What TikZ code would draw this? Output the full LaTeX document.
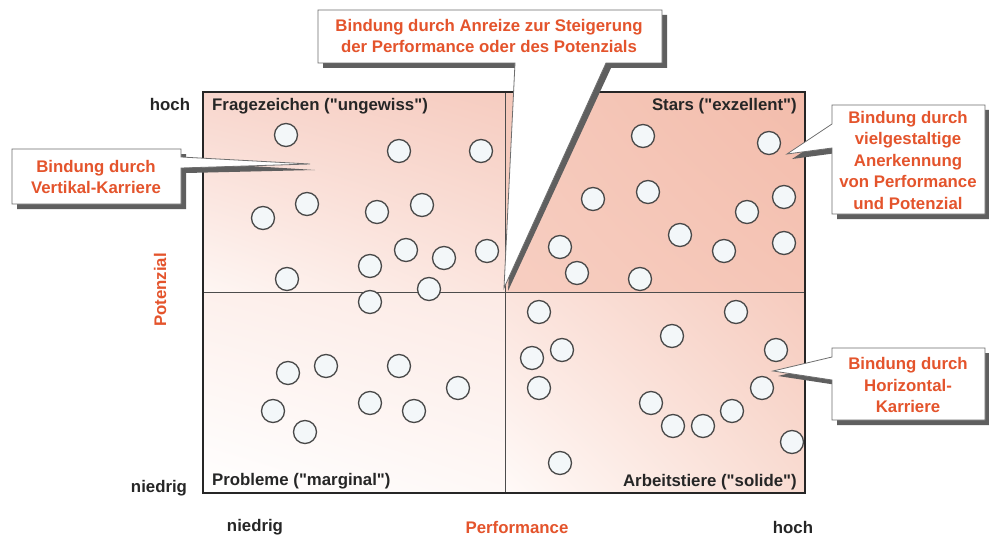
\documentclass[tikz,border=0pt]{standalone}
\usepackage{fontspec}
\setmainfont{Liberation Sans}
\usetikzlibrary{shadings}
\definecolor{accent}{RGB}{228,84,44}
\definecolor{shadowgray}{RGB}{95,95,95}
\definecolor{boxedge}{RGB}{110,110,110}
\definecolor{dotfill}{RGB}{243,247,249}
\definecolor{dotedge}{RGB}{72,72,72}
% quadrant colours
\definecolor{aUL}{RGB}{248,214,205}\definecolor{aUR}{RGB}{246,204,192}
\definecolor{aLL}{RGB}{254,246,243}\definecolor{aLR}{RGB}{251,228,221}
\definecolor{bUL}{RGB}{245,201,187}\definecolor{bUR}{RGB}{243,188,171}
\definecolor{bLL}{RGB}{247,206,193}\definecolor{bLR}{RGB}{245,197,182}
\definecolor{cUL}{RGB}{253,240,236}\definecolor{cUR}{RGB}{252,234,229}
\definecolor{cLL}{RGB}{255,255,255}\definecolor{cLR}{RGB}{254,248,246}
\definecolor{dUL}{RGB}{251,228,221}\definecolor{dUR}{RGB}{246,203,190}
\definecolor{dLL}{RGB}{255,250,248}\definecolor{dLR}{RGB}{249,220,210}
\tikzset{
  dot/.style={circle,draw=dotedge,fill=dotfill,line width=1.3pt,minimum size=23pt,inner sep=0pt},
  lbl/.style={font=\fontsize{16.8}{19}\selectfont\bfseries,text=black!85,inner sep=0pt},
  redlbl/.style={lbl,text=accent},
  calltext/.style={font=\fontsize{16.8}{21.5}\selectfont\bfseries,text=accent,align=center,inner sep=0pt},
  callbox/.style={fill=white,draw=boxedge,line width=0.8pt},
  callshadow/.style={fill=shadowgray,draw=none},
  midline/.style={draw=black!70,line width=0.8pt}
}
\newcommand{\qq}{\textquotedbl}
\begin{document}
\begin{tikzpicture}[x=1pt,y=-1pt]
\useasboundingbox (0,0) rectangle (989,535);
\fill[white] (0,0) rectangle (989,535);
% quadrant shading
\shade[upper left=aUL,upper right=aUR,lower left=aLL,lower right=aLR] (203,92) rectangle (505,292);
\shade[upper left=bUL,upper right=bUR,lower left=bLL,lower right=bLR] (505,92) rectangle (805,292);
\shade[upper left=cUL,upper right=cUR,lower left=cLL,lower right=cLR] (203,292) rectangle (505,493);
\shade[upper left=dUL,upper right=dUR,lower left=dLL,lower right=dLR] (505,292) rectangle (805,493);
% mid lines
\draw[midline] (505,92) -- (505,493);
\draw[midline] (203,292) -- (805,292);
% dots
\foreach \x/\y [count=\i] in {
  286/135,399/151,481/151,307/204,263/218,377/212,422/205,406/250,487/251,444/258,370/266,287/279,429/289,370/302,
  288/373,326/366,399/366,458/388,273/411,370/403,414/411,305/432,
  643/136,769/143,593/199,648/192,784/197,747/212,680/235,784/243,560/247,724/251,577/273,640/279,
  539/312,736/312,672/336,776/350,562/350,532/358,539/388,762/388,651/403,732/411,673/426,703/426,792/442,560/463}
  \node[dot] (d\i) at (\x,\y) {};
% main frame
\draw[black!85,line width=2pt] (203,92) rectangle (805,493);
% quadrant labels
\node[lbl,anchor=west] (q1) at (212,106) {Fragezeichen (\qq ungewiss\qq)};
\node[lbl,anchor=east] (q2) at (797,106) {Stars (\qq exzellent\qq)};
\node[lbl,anchor=west] (q3) at (212,481) {Probleme (\qq marginal\qq)};
\node[lbl,anchor=east] (q4) at (797,482) {Arbeitstiere (\qq solide\qq)};
% axis labels
\node[lbl] (yhi) at (170,104) {hoch};
\node[lbl] (ylo) at (159,488) {niedrig};
\node[lbl] (xlo) at (255,527) {niedrig};
\node[lbl] (xhi) at (793,527) {hoch};
\node[redlbl] (xax) at (517,527) {Performance};
\node[redlbl,rotate=90] (yax) at (160,290) {Potenzial};
% callout: left
\fill[callshadow] (17,154) -- (186,154) -- (186,162) -- (315,170) -- (186,173) -- (186,209) -- (17,209) -- cycle;
\draw[callbox] (12,149) -- (181,149) -- (181,157) -- (310,164) -- (181,168) -- (181,204) -- (12,204) -- cycle;
\node[calltext] (c1) at (96,177) {Bindung durch\\Vertikal-Karriere};
% callout: top
\fill[callshadow] (323,15) -- (667,15) -- (667,68) -- (611,68) -- (508,291) -- (520,68) -- (323,68) -- cycle;
\draw[callbox] (318,10) -- (662,10) -- (662,63) -- (606,63) -- (504,288) -- (515,63) -- (318,63) -- cycle;
\node[calltext] (c2) at (489,36) {Bindung durch Anreize zur Steigerung\\der Performance oder des Potenzials};
% callout: right top
\fill[callshadow] (837,110) -- (990,110) -- (990,219) -- (837,219) -- (837,153) -- (792,159) -- (837,129) -- cycle;
\draw[callbox] (832,105) -- (985,105) -- (985,214) -- (832,214) -- (832,148) -- (787,154) -- (832,124) -- cycle;
\node[calltext] (c3) at (908,160) {Bindung durch\\vielgestaltige\\Anerkennung\\von Performance\\und Potenzial};
% callout: right bottom
\fill[callshadow] (837,353) -- (990,353) -- (990,425) -- (837,425) -- (837,385) -- (778,376) -- (837,362) -- cycle;
\draw[callbox] (832,348) -- (985,348) -- (985,420) -- (832,420) -- (832,380) -- (773,371) -- (832,357) -- cycle;
\node[calltext] (c4) at (908,385) {Bindung durch\\Horizontal-\\Karriere};
\end{tikzpicture}
\end{document}
